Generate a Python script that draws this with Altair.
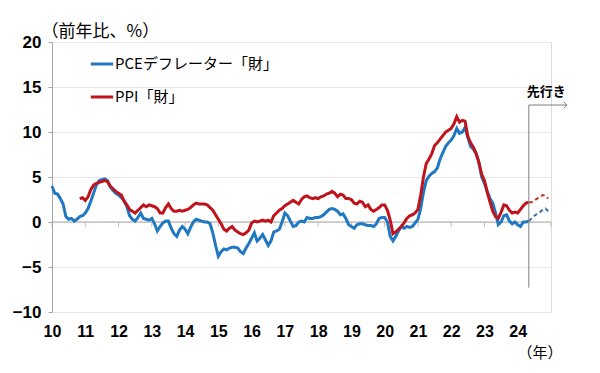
import altair as alt
import pandas as pd

# ---- data (monthly, % y/y) ----
pce_start = 2010.0          # Jan 2010
pce_values = [
    4.0, 3.2, 3.1, 2.6, 2.0, 0.6, 0.3, 0.4, 0.1, 0.3, 0.6, 0.7,      # 2010
    1.0, 1.5, 2.3, 3.2, 4.1, 4.6, 4.7, 4.8, 4.6, 3.9, 3.5, 3.2,      # 2011
    3.0, 2.7, 2.4, 1.7, 0.7, 0.3, 0.1, 0.5, 1.0, 0.4, 0.3, 0.2,      # 2012
    0.4, -0.2, -1.0, -0.5, -0.1, 0.1, 0.1, -0.7, -1.3, -1.6, -0.9, -0.5,  # 2013
    -0.8, -1.3, -0.6, 0.0, 0.3, 0.2, 0.1, 0.0, 0.0, -0.2, -1.2, -2.6,    # 2014
    -3.8, -3.3, -3.0, -3.1, -2.9, -2.8, -2.8, -2.9, -3.3, -3.5, -2.9, -2.4,  # 2015
    -1.8, -1.2, -2.1, -1.8, -1.4, -2.0, -2.6, -2.1, -1.1, -1.0, -0.8, 0.0,  # 2016
    1.0, 0.7, 0.1, -0.5, -0.4, 0.0, 0.1, 0.0, 0.5, 0.4, 0.4, 0.5,    # 2017
    0.5, 0.6, 0.8, 1.1, 1.4, 1.5, 1.4, 1.2, 0.8, 0.9, 0.4, -0.3,     # 2018
    -0.5, -0.7, -0.3, -0.2, -0.2, -0.3, -0.4, -0.4, -0.5, -0.2, 0.4, 0.5,  # 2019
    0.5, 0.0, -1.6, -2.1, -1.6, -1.0, -0.5, -0.7, -0.5, -0.6, -0.5, -0.1,  # 2020
    0.3, 1.5, 3.3, 4.6, 5.1, 5.4, 5.6, 6.0, 7.0, 7.7, 8.4, 8.8,      # 2021
    9.1, 9.6, 10.4, 9.85, 10.0, 10.5, 9.4, 8.4, 8.1, 7.6, 6.6, 5.0,  # 2022
    4.3, 3.4, 2.6, 2.1, 1.0, -0.3, 0.0, 0.7, 0.8, 0.1, -0.2, 0.0,    # 2023
    -0.3, -0.5, 0.0, 0.0, 0.1,                                       # 2024 Jan-May
]
ppi_start = 2010 + 10 / 12  # Nov 2010
ppi_values = [
    2.6, 2.7,                                                        # 2010 Nov-Dec
    2.4, 2.8, 3.6, 4.1, 4.3, 4.4, 4.5, 4.6, 4.5, 4.0, 3.7, 3.4,      # 2011
    3.2, 3.0, 2.3, 1.9, 1.4, 1.2, 1.0, 1.3, 1.6, 1.9, 1.7, 1.9,      # 2012
    1.8, 1.7, 1.5, 1.0, 1.0, 1.6, 2.0, 1.5, 1.2, 1.2, 1.3, 1.2,      # 2013
    1.3, 1.4, 1.6, 1.9, 2.1, 2.0, 2.0, 2.0, 1.9, 1.6, 1.3, 0.8,      # 2014
    0.3, -0.2, -0.8, -1.0, -0.7, -0.5, -0.9, -1.1, -1.3, -1.4, -1.2, -0.9,  # 2015
    -0.1, 0.1, 0.0, 0.1, 0.2, 0.1, 0.2, 0.0, 0.7, 1.0, 1.3, 1.5,     # 2016
    1.8, 2.0, 2.2, 2.4, 2.2, 2.0, 2.5, 2.8, 2.9, 2.7, 2.6, 2.7,      # 2017
    2.6, 2.8, 2.9, 3.1, 3.2, 3.4, 3.2, 2.8, 3.1, 3.0, 2.6, 2.6,      # 2018
    2.5, 2.1, 2.0, 2.3, 2.2, 1.7, 1.9, 1.4, 1.2, 1.4, 1.6, 1.9,      # 2019
    1.9, 1.3, 0.2, -1.3, -1.1, -0.8, -0.5, -0.1, 0.4, 0.7, 0.8, 1.0,  # 2020
    1.4, 3.0, 5.0, 6.5, 7.0, 7.6, 8.5, 8.8, 9.2, 9.6, 10.0, 10.2,    # 2021
    10.4, 10.9, 11.7, 11.1, 11.3, 11.2, 9.5, 8.8, 8.3, 7.6, 6.6, 5.3,  # 2022
    4.6, 3.3, 2.2, 1.2, 0.6, 0.4, 1.1, 1.9, 1.8, 1.3, 1.0, 1.1,      # 2023
    1.0, 1.4, 1.8, 2.1, 2.2,                                         # 2024 Jan-May
]
fc_start = 2024 + 4 / 12    # May 2024 (start of outlook)
pce_fc_values = [0.1, 0.4, 0.7, 0.9, 1.1, 1.35, 1.5, 1.2]
ppi_fc_values = [2.2, 2.2, 2.4, 2.6, 2.8, 3.0, 2.9, 2.6]

series_names = ["PCEデフレーター「財」", "PPI「財」"]
year_ticks = list(range(2010, 2026))
y_ticks = [-10, -5, 0, 5, 10, 15, 20]
arrow_top, arrow_bottom, arrow_end = 13.0, -7.3, 2025.48

BLUE = "#1f78c1"
RED = "#c0141c"
BLUE_FC = "#3f6fae"
RED_FC = "#c4302b"
GREY = "#a6a6a6"


def monthly(start, vals, name):
    return pd.DataFrame({"t": [start + i / 12 for i in range(len(vals))],
                         "v": vals, "series": name})


solid = pd.concat([monthly(pce_start, pce_values, series_names[0]),
                   monthly(ppi_start, ppi_values, series_names[1])])
fc_pce = monthly(fc_start, pce_fc_values, "pce_fc")
fc_ppi = monthly(fc_start, ppi_fc_values, "ppi_fc")

xscale = alt.Scale(domain=[2010, 2025], nice=False, zero=False)
yscale = alt.Scale(domain=[-10, 20], nice=False, zero=False)

xaxis = alt.Axis(values=year_ticks[:-1], labelExpr="'' + (datum.value % 100)",
                 grid=False, domain=False, ticks=False, labelFontSize=16,
                 labelFont="Liberation Sans", labelFontWeight="bold",
                 labelColor="#000", labelPadding=11,
                 labelFlush=False, labelOverlap=False,
                 title="（年）", titleFont="Noto Sans CJK JP", titleFontSize=15,
                 titleFontWeight="normal", titleColor="#000", titleAnchor="start",
                 titleAlign="left", titleX=465, titleY=40, titleBaseline="middle")
yaxis = alt.Axis(values=y_ticks, grid=True, gridColor="#e8e8e8", domainColor=GREY,
                 tickColor=GREY, tickSize=4, labelFontSize=17,
                 labelFont="Liberation Sans", labelFontWeight="bold",
                 labelColor="#000", labelPadding=7,
                 title="（前年比、%）", titleAngle=0, titleAlign="left",
                 titleAnchor="start", titleX=-11, titleY=-6,
                 titleBaseline="alphabetic", titleFont="Noto Sans CJK JP",
                 titleFontSize=17, titleFontWeight="normal", titleColor="#000")


def X(field):
    return alt.X(field, type="quantitative", scale=xscale, axis=xaxis)


def Y(field):
    return alt.Y(field, type="quantitative", scale=yscale, axis=yaxis)


zero_df = pd.DataFrame({"t": [2010.0], "t2": [2025.0], "v": [0.0]})
zero_line = alt.Chart(zero_df).mark_rule(color=GREY, strokeWidth=1).encode(
    x=X("t"), x2="t2", y=Y("v"))

ticks_df = pd.DataFrame({"t": year_ticks, "v": [0.0] * len(year_ticks)})
year_tick_marks = alt.Chart(ticks_df).mark_tick(
    color=GREY, orient="vertical", size=5, yOffset=2.5, thickness=1).encode(
    x=X("t"), y=Y("v"))

lines = alt.Chart(solid).mark_line(strokeWidth=3).encode(
    x=X("t"), y=Y("v"),
    color=alt.Color("series:N",
                    scale=alt.Scale(domain=series_names, range=[BLUE, RED]),
                    sort=series_names,
                    legend=alt.Legend(orient="none", legendX=37, legendY=9,
                                      title=None, symbolType="stroke",
                                      symbolStrokeWidth=3, symbolSize=500,
                                      labelFontSize=15, labelFont="Noto Sans CJK JP",
                                      labelColor="#000", labelOffset=0,
                                      rowPadding=12, padding=0, labelLimit=300)),
)

dash_pce = alt.Chart(fc_pce).mark_line(strokeWidth=2, strokeDash=[4, 3],
                                       color=BLUE_FC).encode(x=X("t"), y=Y("v"))
dash_ppi = alt.Chart(fc_ppi).mark_line(strokeWidth=2, strokeDash=[4, 3],
                                       color=RED_FC).encode(x=X("t"), y=Y("v"))

vline_df = pd.DataFrame({"t": [fc_start], "v": [arrow_top], "v2": [arrow_bottom]})
vline = alt.Chart(vline_df).mark_rule(color="#7f7f7f", strokeWidth=1).encode(
    x=X("t"), y=Y("v"), y2="v2")

hline_df = pd.DataFrame({"t": [fc_start], "t2": [arrow_end], "v": [arrow_top]})
hline = alt.Chart(hline_df).mark_rule(color="#7f7f7f", strokeWidth=1).encode(
    x=X("t"), x2="t2", y=Y("v"))

head_df = pd.DataFrame({"t": [arrow_end], "v": [arrow_top]})
head = alt.Chart(head_df).mark_point(
    shape="M-1,-1L0,0L-1,1", filled=False, stroke="#7f7f7f", strokeWidth=1,
    size=40, opacity=1).encode(x=X("t"), y=Y("v"))

label_df = pd.DataFrame({"t": [fc_start], "v": [arrow_top], "txt": ["先行き"]})
label = alt.Chart(label_df).mark_text(
    align="left", baseline="bottom", dx=-2, dy=-6, fontSize=13,
    fontWeight="bold", font="Noto Sans CJK JP", color="#000").encode(
    x=X("t"), y=Y("v"), text="txt:N")

chart = alt.layer(
    zero_line, year_tick_marks, lines, dash_pce, dash_ppi,
    vline, hline, head, label
).properties(
    width=499, height=270, autosize="none",
    padding={"left": 44, "top": 34, "right": 30, "bottom": 52},
).configure_view(stroke=None).configure(background="white")

chart.save("out.html", embed_options={"renderer": "svg", "actions": False})
